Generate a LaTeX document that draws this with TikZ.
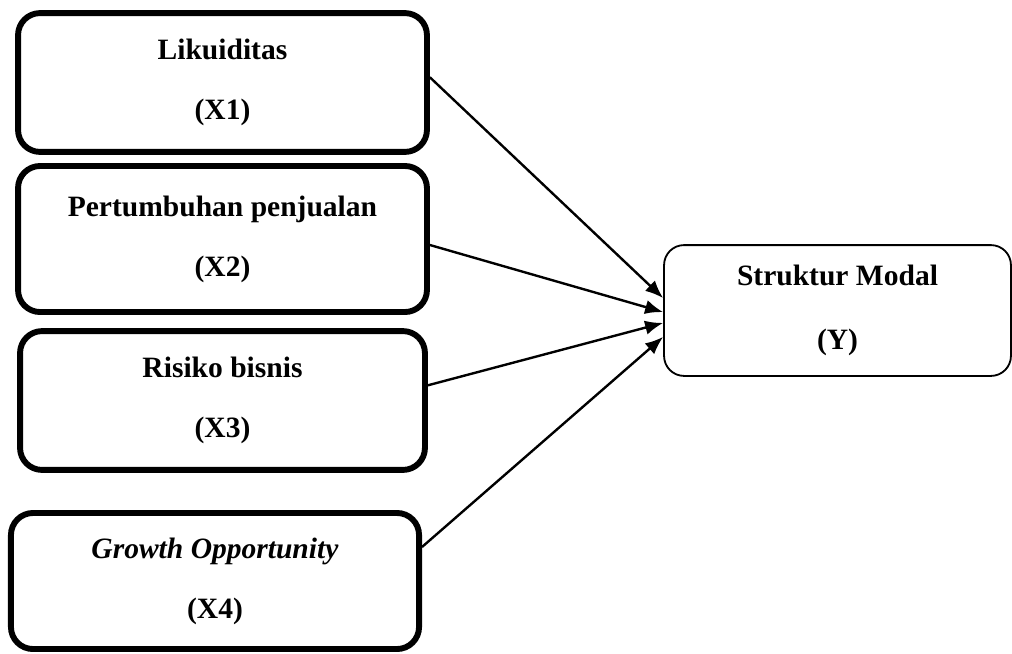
\documentclass[tikz,border=0pt]{standalone}
\usepackage{fontspec}
\setmainfont{Liberation Serif}
\usetikzlibrary{arrows.meta}

\begin{document}
\begin{tikzpicture}[
			x=0.025cm, y=-0.025cm,
			var/.style={rectangle,rounded corners=0.55cm,draw=black,line width=4.2pt,
			align=center,inner sep=0pt,font=\bfseries\fontsize{21}{42.7}\selectfont},
			dep/.style={var,line width=1.3pt,rounded corners=0.5cm},
			path/.style={>={Latex[length=0.45cm,width=0.36cm]},draw=black,line width=1.7pt,->}
			]
			\useasboundingbox (0,0) rectangle (1012,653);
			\node[var, minimum width=10.22cm, minimum height=3.47cm] (x1) at (222.5,82.5)
				{Likuiditas\\(X1)};
			\node[var, minimum width=10.22cm, minimum height=3.65cm] (x2) at (222.5,239)
				{Pertumbuhan penjualan\\(X2)};
			\node[var, minimum width=10.12cm, minimum height=3.47cm] (x3) at (222.5,400.5)
				{Risiko bisnis\\(X3)};
			\node[var, minimum width=10.2cm, minimum height=3.4cm] (x4) at (215,581)
				{\textit{Growth Opportunity}\\(X4)};
			\node[dep, minimum width=8.67cm, minimum height=3.27cm,
				font=\bfseries\fontsize{21}{45}\selectfont] (y) at (837.5,310.5)
				{Struktur Modal\\(Y)};
			\draw[path] ([yshift=0.13cm]x1.east) -- ([yshift=0.31cm]y.west);
			\draw[path] ([yshift=-0.15cm]x2.east) -- ([yshift=-0.04cm]y.west);
			\draw[path] ([yshift=0.38cm]x3.east) -- ([yshift=-0.31cm]y.west);
			\draw[path] ([yshift=0.85cm]x4.east) -- ([yshift=-0.66cm]y.west);
		\end{tikzpicture}
\end{document}
